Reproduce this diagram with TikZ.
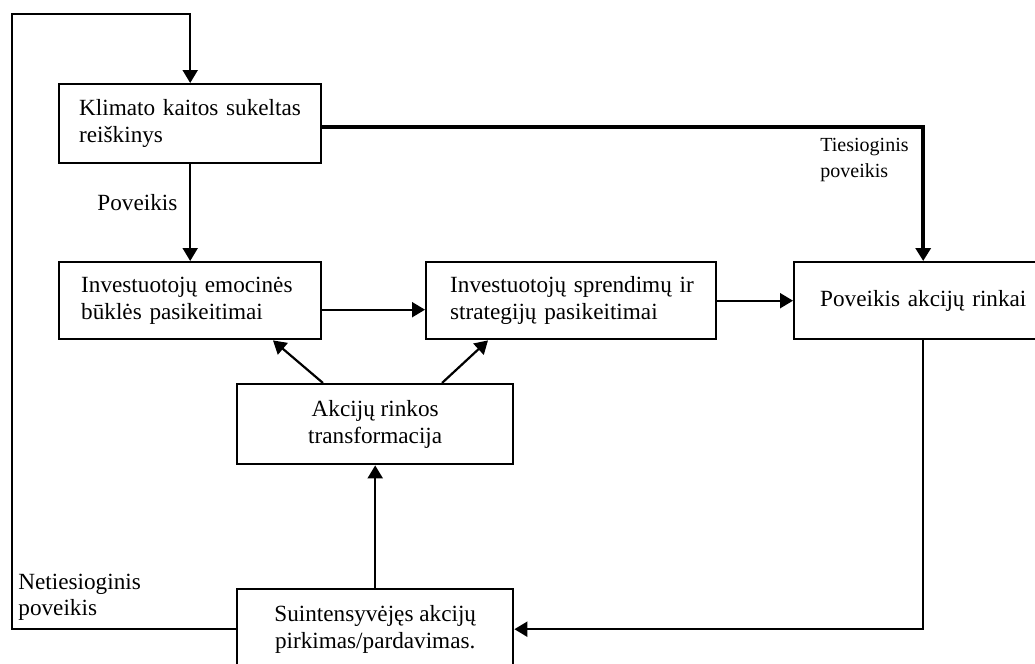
\documentclass[tikz,border=0pt]{standalone}
\usepackage{fontspec}
\setmainfont{Liberation Serif}
\usetikzlibrary{arrows.meta,calc}
\begin{document}
\begin{tikzpicture}[x=0.5pt,y=-0.5pt,
  box/.style={draw, line width=1.2pt, anchor=north west, inner ysep=0pt, font=\fontsize{11.6}{13.5}\selectfont},
  lbox/.style={box, align=left},
  cbox/.style={box, align=center},
  conn/.style={line width=1.1pt},
  arr/.style={conn, -{Triangle[length=6.5pt,width=7.5pt]}},
  lbl/.style={inner sep=0pt, anchor=west, align=left, font=\fontsize{11.6}{13}\selectfont}]
\fill[white] (0,0) rectangle (1035,664);
\useasboundingbox (0,0) rectangle (1035,664);
\node[lbox, minimum width=131pt, minimum height=39.5pt, text width=111pt, inner xsep=10pt] (b1) at (58,83) {\mbox{Klimato kaitos sukeltas}\\\mbox{reiškinys}};
\node[lbox, minimum width=131pt, minimum height=38.5pt, text width=109pt, inner xsep=11pt] (b2) at (58,261) {\mbox{Investuotojų emocinės}\\\mbox{būklės pasikeitimai}};
\node[lbox, minimum width=145pt, minimum height=38.5pt, text width=121pt, inner xsep=12pt] (b3) at (425,261) {\mbox{Investuotojų sprendimų ir}\\\mbox{strategijų pasikeitimai}};
\node[lbox, minimum width=129pt, minimum height=38.5pt, text width=103pt, inner xsep=13pt] (b4) at (793,261) {\mbox{Poveikis akcijų rinkai}};
\node[cbox, minimum width=138pt, minimum height=40pt] (b5) at (236,383) {Akcijų rinkos\\transformacija};
\node[cbox, minimum width=138pt, minimum height=40pt] (b6) at (236,588) {Suintensyvėjęs akcijų\\pirkimas/pardavimas.};
\coordinate (lt) at (12,14);
\coordinate (ll) at (lt |- b6.west);
\draw[arr] (b6.west) -- (ll) -- (lt) -| (b1.north);
\draw[arr] (b1.south) -- (b2.north);
\draw[arr, line width=1.8pt] ([yshift=-1.5pt]b1.east) -| (b4.north);
\draw[arr] ([yshift=-4.5pt]b2.east) -- ([yshift=-4.5pt]b3.west);
\draw[arr] (b3.east) -- (b4.west);
\draw[arr] (b4.south) |- (b6.east);
\draw[arr] (b6.north) -- (b5.south);
\draw[arr] ([xshift=43.5pt]b5.north west) -- ([xshift=107.5pt]b2.south west);
\draw[arr] ([xshift=103pt]b5.north west) -- ([xshift=31.5pt]b3.south west);
\node[lbl] (lp) at (97,203) {Poveikis};
\node[lbl, font=\fontsize{10}{13}\selectfont] (ltp) at (820,160) {Tiesioginis\\poveikis};
\node[lbl] (lnp) at (18,597) {Netiesioginis\\poveikis};
\end{tikzpicture}
\end{document}
